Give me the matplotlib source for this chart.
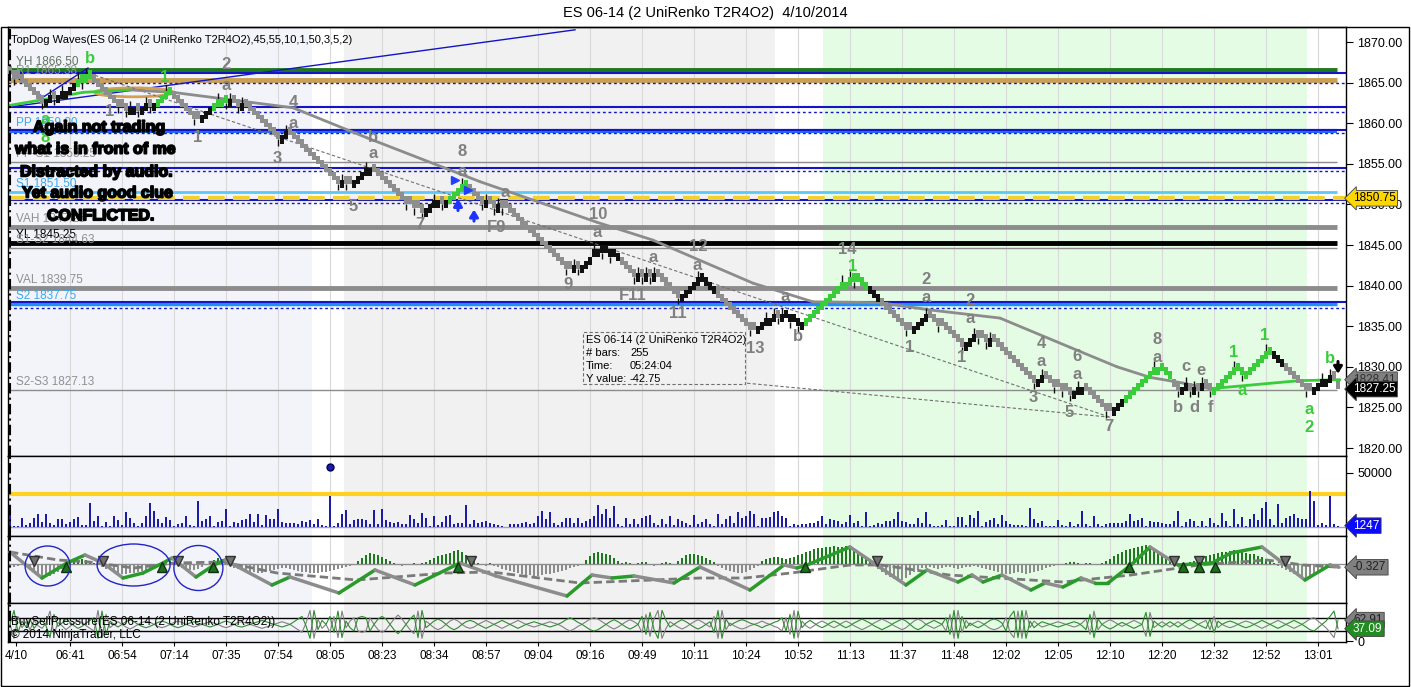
import matplotlib
matplotlib.use('Agg')
import matplotlib.pyplot as plt
import matplotlib.patches as mpatches
import matplotlib.patheffects as pe
from matplotlib.ticker import FormatStrFormatter
import numpy as np

plt.rcParams['font.family'] = ['Liberation Sans', 'DejaVu Sans']

W, H = 1411, 687

TITLE = 'ES 06-14 (2 UniRenko T2R4O2)  4/10/2014'
INDICATOR = 'TopDog Waves(ES 06-14 (2 UniRenko T2R4O2),45,55,10,1,50,3,5,2)'

# Renko closes, one per bar
CLOSES = [
    1866.0, 1865.5, 1865.5, 1865.0, 1864.5, 1864.0, 1863.5, 1863.0, 1862.5,
    1863.0, 1863.5, 1863.0, 1863.5, 1864.0, 1864.0, 1864.5, 1865.0, 1865.5, 1865.0, 1866.0,
    1865.5, 1865.0, 1864.5, 1864.0, 1863.5, 1863.0,
    1862.5, 1862.0, 1862.0, 1861.5, 1862.0, 1862.0, 1861.5, 1862.0, 1862.5, 1862.0, 1862.5,
    1863.0, 1863.5, 1864.0,
    1863.5, 1863.0, 1862.5, 1862.0, 1861.5, 1861.0, 1860.5, 1860.5,
    1861.0, 1861.5, 1862.0, 1862.5, 1863.0, 1863.0,
    1862.5, 1863.0, 1862.5, 1862.0, 1862.5,
    1862.0, 1861.5, 1861.0, 1860.5, 1860.0, 1859.5, 1859.0, 1858.5, 1858.0,
    1858.5, 1859.0, 1858.5,
    1858.0, 1857.5, 1857.0, 1856.5, 1856.0, 1855.5, 1855.0, 1854.5, 1854.0, 1853.5,
    1853.0, 1852.5, 1853.0, 1852.5, 1852.5, 1853.0,
    1853.5, 1854.0, 1854.5, 1854.5, 1854.0,
    1853.5, 1853.0, 1852.5, 1852.0, 1851.5, 1851.0, 1850.5, 1850.0, 1850.0, 1849.5, 1849.5, 1849.0,
    1849.5, 1850.0, 1850.5, 1850.5, 1850.0, 1850.5, 1851.0, 1851.5, 1852.0,
    1852.5, 1852.0, 1851.5, 1851.0,
    1850.5, 1850.0, 1850.5, 1850.0, 1849.5, 1850.0, 1849.5, 1849.5,
    1849.0, 1848.5, 1848.0, 1847.5, 1847.0, 1846.5, 1846.0, 1845.5, 1845.0, 1844.5,
    1844.0, 1843.5, 1843.0, 1842.5, 1842.0, 1842.0,
    1842.5, 1842.0, 1842.5, 1843.0, 1843.5, 1844.5, 1844.5,
    1844.0, 1844.0, 1843.5, 1843.5, 1843.0, 1842.5, 1842.0, 1841.5,
    1841.0, 1841.5, 1841.0, 1841.5, 1841.0, 1841.5, 1841.0, 1840.5,
    1840.0, 1839.5, 1839.0, 1838.5,
    1839.0, 1839.5, 1840.0, 1840.5, 1841.0,
    1840.5, 1840.0, 1839.5, 1839.0, 1838.5, 1838.0, 1837.5, 1837.0, 1836.5, 1836.0,
    1835.5, 1835.0, 1834.5, 1834.5,
    1835.0, 1835.5, 1836.0, 1836.0, 1836.5, 1836.0, 1836.5,
    1836.0, 1835.5, 1835.5, 1835.0,
    1835.5, 1836.0, 1836.5, 1837.0, 1837.5, 1838.0, 1838.5, 1839.0, 1839.5, 1840.0,
    1840.5, 1840.5, 1841.0,
    1840.5, 1840.5, 1840.0, 1839.5, 1839.0, 1838.5, 1838.0, 1837.5, 1837.0, 1836.5,
    1836.0, 1835.5, 1835.0, 1834.5, 1834.5,
    1835.0, 1835.5, 1836.0, 1836.5,
    1836.0, 1835.5, 1835.0, 1835.0, 1834.5, 1834.0, 1833.5, 1833.0, 1832.5,
    1833.0, 1833.5, 1834.0,
    1833.5, 1833.5, 1833.0, 1833.5, 1833.0, 1832.5, 1832.0, 1831.5, 1831.0, 1830.5,
    1830.0, 1829.5, 1829.0, 1828.5, 1828.0,
    1828.5, 1829.0,
    1828.5, 1828.0, 1827.5, 1827.5, 1827.0, 1827.0, 1826.5,
    1827.0, 1827.5, 1827.5,
    1827.0, 1826.5, 1826.0, 1825.5, 1825.0, 1824.5, 1824.5,
    1825.0, 1825.5, 1826.0, 1826.5, 1827.0, 1827.5, 1828.0, 1828.5, 1829.0, 1829.5,
    1830.0, 1830.0,
    1829.5, 1829.0, 1828.5, 1827.5, 1827.0,
    1827.5, 1828.0, 1827.0, 1827.5, 1827.0, 1828.0, 1827.5, 1827.0,
    1827.5, 1828.0, 1828.5, 1829.0, 1829.5, 1830.0,
    1829.5, 1829.0,
    1829.5, 1830.0, 1830.5, 1831.0, 1831.5, 1832.0,
    1831.5, 1831.0, 1830.5, 1830.0, 1829.5, 1829.0, 1828.5, 1828.0, 1827.5, 1827.0, 1827.0,
    1827.5, 1828.0, 1828.5, 1828.5, 1829.0,
    1828.5, 1827.25,
]

GREEN_SPANS = [(17, 20), (37, 40), (51, 54), (110, 114), (199, 214), (279, 290), (301, 315)]
BLACK_SPANS = [(148, 152), (173, 176), (194, 197), (215, 217), (316, 318)]

VOLUME = [
    13900, 900, 900, 8700, 1500, 4000, 8700, 11700, 4600, 11700,
    4000, 1500, 7700, 7700, 2500, 4600, 7100, 9300, 1500, 1500,
    22600, 5600, 10200, 900, 4600, 900, 10200, 6500, 1500, 13900,
    8700, 4000, 900, 4000, 10200, 22600, 14800, 7100, 4000, 9300,
    6200, 900, 2500, 4000, 10200, 1500, 900, 24100, 5600, 7100,
    10200, 900, 4600, 5600, 17000, 900, 4600, 4000, 6500, 7100,
    11700, 4600, 11700, 1500, 11100, 7100, 7700, 17000, 4600, 4000,
    4000, 4000, 2500, 5600, 4600, 6200, 2500, 7100, 1500, 900,
    28700, 900, 3400, 11700, 15800, 2500, 6500, 7700, 7700, 6500,
    2500, 15800, 2500, 17000, 6500, 4600, 3400, 4600, 2500, 2500,
    10800, 7100, 4000, 12700, 8700, 900, 10200, 1500, 4600, 10200,
    10800, 2500, 4000, 4000, 20100, 2500, 6500, 4000, 4600, 5600,
    4000, 2500, 1500, 900, 300, 2500, 2500, 2500, 4000, 4600,
    2500, 4000, 10200, 14800, 7100, 13900, 4000, 1500, 4600, 8000,
    8700, 4000, 8000, 4000, 5600, 7700, 10200, 20100, 11700, 17000,
    8000, 19500, 2500, 900, 8700, 2500, 7100, 2500, 8700, 10200,
    10800, 4000, 1500, 7100, 2500, 10200, 1500, 7700, 5600, 4000,
    1500, 10800, 2500, 4600, 7100, 2500, 900, 11700, 2500, 7100,
    10200, 4000, 13900, 8700, 10200, 14800, 11700, 900, 8000, 8700,
    9300, 13900, 14800, 10200, 8700, 900, 2500, 1500, 2500, 2500,
    4000, 4000, 5600, 10200, 2500, 7100, 6200, 5600, 2500, 4600,
    10800, 4000, 5600, 900, 13900, 900, 1500, 4000, 2500, 5600,
    5600,
    7100, 13900, 5600, 4900, 2500, 3100, 8000, 4000, 13900, 2500,
    900, 900, 1500, 6200, 900, 900, 9600, 9300, 1500, 11100,
    8000, 14800, 900, 4600, 6200, 8000, 2500, 10800, 5600, 2500,
    1500, 1500, 1500, 900, 17300, 7100, 4000, 5600, 900, 900,
    900, 6200, 1500, 900, 4600, 900, 2500, 14800, 2500, 900,
    10200, 2500, 900, 2500, 4000, 4000, 4000, 4000, 5600, 11700,
    5600, 6500, 8000, 900, 5600, 4600, 4600, 4000, 3100, 2500,
    5600, 14800, 900, 4600, 7100, 5600, 900, 5600, 900, 8000,
    4000, 1500, 12700, 5600, 900, 17000, 2500, 9300, 900, 7100,
    11700, 6200, 17900, 23200, 7100, 1500, 21600, 4000, 8700, 10200,
    11700, 8700, 7700, 7100, 33400, 24100, 1500, 4000, 1500, 28700,
    2500, 1247,
]
VOL_ALERT = 30500
VOL_DOT_BAR, VOL_DOT = 80, 55500

HIST = [
    -0.2, -0.3, -0.2, -0.1, -0.3, -0.6, -0.9, -1.2, -1.4, -1.3, -1.2, -1.0, -0.8, -0.5, -0.2,
    0.1, 0.3, 0.4, 0.5, 0.4, 0.3, 0.1,
    -0.1, -0.3, -0.5, -0.6, -0.8, -0.9, -1.0, -1.0, -0.9, -0.9, -0.8, -0.7, -0.6, -0.5, -0.3, -0.2, -0.1,
    0.2, 0.3, 0.1,
    -0.2, -0.4, -0.5, -0.6, -0.6, -0.5, -0.3, -0.1,
    0.2, 0.4, 0.6, 0.5, 0.2,
    -0.2, -0.4, -0.5, -0.6, -0.7, -0.8, -0.8, -0.9, -0.9, -0.8, -0.7, -0.6, -0.5, -0.4, -0.4,
    -0.5, -0.6, -0.7, -0.8, -0.8, -0.9, -0.9, -0.9, -0.8, -0.8, -0.7, -0.6, -0.5, -0.4, -0.3, -0.2, -0.1,
    0.3, 0.6, 0.9, 1.1, 1.0, 0.9, 0.7, 0.5, 0.3, 0.1,
    -0.1, -0.2, -0.1, 0.0, 0.1, -0.1, 0.1, 0.2,
    0.4, 0.6, 0.8, 0.9, 1.0, 1.1, 1.3, 1.4, 1.2, 0.9, 0.6, 0.3,
    0.1, -0.1, -0.2, 0.1, -0.2,
    -0.3, -0.5, -0.6, -0.7, -0.8, -0.9, -1.0, -1.1, -1.1, -1.2, -1.2, -1.1, -1.0, -1.0, -0.9,
    -0.8, -0.7, -0.6, -0.4, -0.3, -0.2, -0.1,
    0.4, 0.8, 1.1, 1.2, 1.1, 1.0, 0.9, 0.6, 0.3,
    0.1, 0.2, 0.1, -0.1, 0.1, 0.2, 0.2, -0.1, -0.2, -0.1, 0.1, 0.2, 0.1, 0.0,
    0.3, 0.6, 0.9, 1.0, 1.0, 0.9, 0.8, 0.6, 0.4, 0.2,
    -0.2, -0.4, -0.6, -0.7, -0.8, -0.9, -0.9, -0.8, -0.6, -0.4, -0.2,
    0.3, 0.5, 0.6, 0.7, 0.7, 0.6, 0.5, 0.6, 0.7, 0.9, 1.0, 1.2, 1.3, 1.5, 1.6, 1.6, 1.7, 1.7,
    1.8, 1.7, 1.7, 1.8,
    1.6, 1.4, 1.2, 0.9, 0.6, 0.3,
    -0.2, -0.5, -0.8, -1.1, -1.3, -1.5, -1.7, -1.6, -1.4, -1.1,
    -0.8, -0.6, -0.4, -0.4, -0.3, -0.4, -0.5, -0.4, -0.3, -0.3, -0.4, -0.5, -0.4, -0.3, -0.3,
    -0.2, -0.3, -0.4, -0.5,
    -0.6, -0.7, -0.8, -0.9, -1.0, -1.0, -0.9, -0.8, -0.9, -1.0, -0.9, -0.8, -0.7, -0.6, -0.4,
    -0.3, -0.2, -0.1,
    -0.1, 0.1, 0.2, 0.2, 0.1, -0.1, 0.1, 0.1, 0.0, -0.1, 0.1,
    0.3, 0.5, 0.8, 1.0, 1.2, 1.4, 1.5, 1.6, 1.7, 1.8, 1.9, 1.8, 1.6, 1.3, 1.0, 0.7,
    0.4, 0.2, 0.1, -0.1, 0.1, 0.2,
    0.3, 0.5, 0.6, 0.8, 0.9, 1.0, 1.1, 1.2, 1.2, 1.3, 1.4, 1.3, 1.2, 1.1, 1.0, 1.0, 0.8, 0.7,
    0.5, 0.3, 0.1,
    -0.2, -0.4, -0.6, -0.8, -1.0, -1.2, -1.3, -1.5, -1.4, -1.2, -0.9, -0.6, -0.4,
    -0.3, -0.2, -0.3,
]

# oscillator line and its signal, read at their turning points
MACD_K = [0, 8, 14.25, 18.75, 23.25, 28.25, 33.25, 38.25, 40.5, 46.5, 51, 53.75, 65.5, 70,
          82.25, 91.25, 101.25, 112.5, 121.5, 139.25, 145.5, 150.5, 156, 166, 172.5, 185,
          193.5, 196.75, 199.25, 210, 224, 229.25, 237, 240.5, 243.25, 248, 255.25, 258.75,
          263.25, 267.75, 271.25, 274.5, 280.25, 285, 292, 300.5, 305.25, 313, 323.75, 330,
          332.25]
MACD_V = [1.2, -1.4, 0.1, 0.9, 0.1, -1.4, -0.9, 0.1, 0.6, -1.3, -0.1, 0.4, -2.1, -1.3,
          -2.9, -0.6, -2.1, 0.1, -1.2, -3.2, -1.1, -1.4, -1.2, -1.9, -0.3, -2.6,
          -0.1, -0.4, -0.1, 1.7, -2.1, -0.6, -1.8, -1.1, -1.8, -1.1, -2.6, -1.9,
          -2.3, -1.4, -1.9, -1.9, -0.1, 1.7, -0.1, 0.1, 1.1, 1.7, -1.6, -0.1,
          -0.327]
SIG_K = [0, 12, 19.75, 31, 41, 53.25, 66.75, 86.75, 109, 120.25, 142.5, 172.5, 183.75,
         195.25, 210, 217.75, 234.75, 263.25, 280.25, 297.25, 314.25, 323.25, 332.25]
SIG_V = [1.2, 0.4, 0.2, -0.4, 0.1, 0.2, -0.9, -1.6, -0.9, -0.8, -1.9, -1.4, -1.4,
         -0.9, -0.1, -0.1, -1.1, -1.8, -1.1, -0.1, 0.4, -0.1, -0.327]
CROSS_DN = [6, 23.25, 42, 55, 115.25, 216.75, 291, 297.25, 318.75]
CROSS_UP = [14, 38, 50.75, 112, 198.75, 279.75, 293.25, 297.25, 301.25]

BUY = [
    50, 92, 26, 60, 42, 66, 38, 54, 62, 46, 10, 80, 44, 54, 66, 56, 46, 38, 44, 54,
    62, 70, 8, 90, 20, 60, 50, 42, 50, 58, 64, 58, 50, 44, 40, 44, 50, 56, 60, 56,
    50, 44, 40, 44, 50, 54, 58, 54, 50, 46, 42, 46, 50, 56, 60, 56, 50, 44, 42, 46,
    50, 54, 58, 62, 58, 54, 50, 46, 42, 46, 50, 58, 66, 74, 46, 8, 92, 34, 62, 50,
    74, 26, 90, 10, 60, 40, 30, 70, 74, 70, 30, 50, 66, 74, 66, 50, 34, 22, 34, 50,
    66, 78, 10, 92, 40, 50, 60, 66, 60, 50, 40, 34, 40, 50, 58, 62, 58, 50, 44, 38,
    44, 50, 56, 62, 56, 50, 44, 38, 44, 50, 54, 58, 54, 50, 46, 42, 46, 50, 56, 64,
    70, 64, 56, 50, 42, 34, 30, 34, 42, 50, 58, 64, 58, 50, 42, 36, 42, 50, 74, 20,
    86, 34, 8, 92, 62, 42, 50, 58, 64, 58, 50, 42, 36, 42, 50, 58, 26, 92, 8, 66,
    46, 54, 60, 64, 60, 54, 50, 46, 40, 46, 50, 56, 60, 70, 30, 80, 8, 90, 40, 54,
    62, 54, 46, 40, 46, 54, 60, 54, 46, 40, 46, 54, 60, 66, 60, 54, 46, 40, 34, 40,
    46, 54, 60, 66, 60, 50, 40, 34, 40, 50, 56, 62, 56, 50, 70, 20, 92, 8, 74, 38,
    54, 46, 40, 46, 54, 62, 66, 62, 54, 30, 74, 90, 10, 92, 8, 60, 40, 50, 58, 54,
    50, 46, 42, 46, 50, 54, 58, 54, 46, 34, 80, 10, 66, 50, 42, 36, 42, 50, 56, 50,
    44, 38, 44, 50, 86, 14, 60, 50, 42, 50, 58, 50, 42, 50, 58, 64, 58, 50, 44, 38,
    66, 26, 60, 50, 56, 60, 56, 50, 44, 40, 44, 50, 56, 62, 56, 50, 44, 38, 44, 50,
    56, 62, 56, 50, 42, 34, 30, 40, 50, 60, 74, 90, 37.09,
]

# moving average on price, read at its bends
MA_K = [0, 8.25, 18.25, 30, 40.75, 70.75, 89.25, 117.5, 146.75, 160.75, 185.75, 200.75,
        217.5, 230, 247.5, 265, 276.75, 285, 293.25, 300, 322.5, 332.5]
MA_P = [1862.2, 1862.9, 1863.8, 1864.1, 1863.8, 1861.9, 1858.2, 1852.8, 1847.8, 1845.6,
        1840.3, 1838.0, 1837.9, 1837.0, 1836.0, 1832.4, 1830.0, 1828.7, 1828.0, 1827.3,
        1828.3, 1828.41]

PIVOT_NAMES = ['YH', 'R1', 'PP', 'PP-S1', 'S1', 'VAH', 'YL', 'S1-S2', 'VAL', 'S2', 'S2-S3']
PIVOT_VALUES = [1866.50, 1865.38, 1859.00, 1855.25, 1851.50, 1847.25, 1845.25, 1844.63,
                1839.75, 1837.75, 1827.13]
BLUE_SOLID = [1866.2, 1862.0, 1859.2, 1854.5, 1850.6, 1837.95]
BLUE_DOTTED = [1865.0, 1861.4, 1858.85, 1854.1, 1850.2, 1837.2]
SIGNAL_LEVEL = 1850.75

WAVE_TEXT = ['2', 'a', '4', 'a', '3', '1', '1', 'b', 'a', '5', '7', '8', 'a',
             'b', 'a', '8', '1',
             'a', 'F9', '10', 'a', '9', 'a', 'F11', '12', 'a', '11', '13', 'a', 'b', '14', '1',
             '1', '2', 'a', '2', 'a', '1', '4', 'a', '3', '6', 'a', '5', '7', '8', 'a',
             'c', 'e', 'b', 'd', 'f', '1', 'a', '1', 'b', 'a', '2']
WAVE_K = [54, 54, 70.75, 70.75, 66.75, 47, 25, 90.75, 90.75, 85.75, 102.5, 113, 113,
          20, 8.75, 8.75, 38.75,
          123.75, 121.75, 147, 146.75, 139.5, 160.75, 155.75, 172, 171.75, 167, 186.25, 193.75,
          197, 209.25, 210.75,
          225, 229, 229, 240, 240, 238, 257.75, 257.75, 255.75, 266.75, 266.75, 264.75, 274.75,
          286.75, 286.75,
          294, 297.75, 292, 296, 300, 306, 308, 313.75, 330, 324.75, 324.75]
WAVE_P = [1867.2, 1864.7, 1862.5, 1860.0, 1855.7, 1858.3, 1861.4, 1858.3, 1856.3, 1849.7,
          1847.5, 1856.5, 1854.0,
          1868.0, 1860.4, 1858.3, 1865.6,
          1851.5, 1847.2, 1848.7, 1846.5, 1840.1, 1843.4, 1838.8, 1844.8, 1842.5, 1836.6,
          1832.3, 1838.6, 1833.7, 1844.4, 1842.3,
          1832.4, 1840.7, 1838.5, 1838.2, 1835.9, 1831.1, 1832.9, 1830.6, 1826.2, 1831.3,
          1829.1, 1824.4, 1822.6, 1833.4, 1831.1,
          1830.0, 1829.6, 1825.0, 1825.0, 1825.0, 1831.8, 1827.1, 1833.8, 1831.0, 1824.7, 1822.5]
WAVE_UP = {13, 14, 15, 16, 31, 52, 53, 54, 55, 56, 57}

NOTE = ['Again not trading', 'what is in front of me', 'Distracted by audio.',
        'Yet audio good clue', 'CONFLICTED.']
NOTE_K = [5.75, 1.25, 2.5, 3.0, 9.25]
NOTE_P = [1859.5, 1856.8, 1854.0, 1851.4, 1848.6]

RULER_K = [21.25, 275]
RULER_P = [1865.9, 1823.8]
RULER_INFO = [('ES 06-14 (2 UniRenko T2R4O2)', ''), ('# bars:', '255'),
              ('Time:', '05:24:04'), ('Y value:', '-42.75')]

TIME_LABELS = ['4/10', '06:41', '06:54', '07:14', '07:35', '07:54', '08:05', '08:23', '08:34',
               '08:57', '09:04', '09:16', '09:49', '10:11', '10:24', '10:52', '11:13', '11:37',
               '11:48', '12:02', '12:05', '12:10', '12:20', '12:32', '12:52', '13:01']
TICK_K = [1.5] + [15 + 13 * j for j in range(25)]

SESSIONS = [(-0.5, 75.5, '#F3F4FA'), (83.5, 191.25, '#F1F1F1'), (203.25, 324.25, '#E4FBE4')]

GRAY = '#8C8C8C'
GREEN = '#3ACC3A'
BLUE = '#1414C8'
XMAX = 334


def box(x0, y0, x1, y1):
    return [x0 / W, 1 - y1 / H, (x1 - x0) / W, (y1 - y0) / H]


def tag(ax, y, text, fc, tc):
    ax.annotate(text, xy=(1.0, y), xycoords=('axes fraction', 'data'),
                xytext=(5, 0), textcoords='offset points', ha='left', va='center',
                fontsize=8.5, color=tc, annotation_clip=False, zorder=20,
                bbox=dict(boxstyle='larrow,pad=0.15', fc=fc, ec='#404040', lw=0.6))


fig = plt.figure(figsize=(W / 100, H / 100), dpi=100)
fig.text(0.5, 1 - 13 / H, TITLE, ha='center', va='center', fontsize=10.5)

ax_p = fig.add_axes(box(8, 27, 1346, 456))
ax_v = fig.add_axes(box(8, 456, 1346, 536), sharex=ax_p)
ax_m = fig.add_axes(box(8, 536, 1346, 603), sharex=ax_p)
ax_b = fig.add_axes(box(8, 603, 1346, 642), sharex=ax_p)
axes = [ax_p, ax_v, ax_m, ax_b]

for ax in axes:
    for a, b, c in SESSIONS:
        ax.axvspan(a, b, color=c, lw=0, zorder=0)
    for t in TICK_K[1:]:
        ax.axvline(t, color='#D9D9D9', lw=0.8, zorder=0.5)
    ax.axvline(0, color='k', lw=1.5, ls=(0, (5, 2, 1, 2)), zorder=6)
    ax.tick_params(axis='x', bottom=False, labelbottom=False)
    ax.tick_params(axis='y', left=False, labelleft=False, right=True, labelright=True,
                   direction='out', length=5, labelsize=9, pad=3)
    for s in ax.spines.values():
        s.set_linewidth(1)
ax_p.set_xlim(-0.5, XMAX)

# ---- price panel ----
ax_p.set_ylim(1870 - 414 / 8.12, 1870 + 15 / 8.12)
ax_p.set_yticks(np.arange(1820, 1871, 5))
ax_p.yaxis.set_major_formatter(FormatStrFormatter('%.2f'))

style = {'YH': ('#1E781E', 3.5, '#607060'), 'R1': ('#C9A055', 3.5, '#909090'),
         'PP': ('#1F6FFF', 3.0, '#3AA8F0'), 'PP-S1': (GRAY, 1.0, '#909090'),
         'S1': ('#5CC8F8', 2.0, '#3AA8F0'), 'VAH': (GRAY, 3.5, '#909090'),
         'YL': ('#000000', 3.5, '#000000'), 'S1-S2': (GRAY, 1.0, '#909090'),
         'VAL': (GRAY, 3.5, '#909090'), 'S2': ('#1F8FFF', 2.5, '#3AA8F0'),
         'S2-S3': (GRAY, 1.0, '#909090')}
for name, val in zip(PIVOT_NAMES, PIVOT_VALUES):
    col, lw, tcol = style[name]
    ax_p.hlines(val, -0.5, 331.75, color=col, lw=lw, zorder=1)
    ax_p.text(1.5, val + 0.25, f'{name} {val:.2f}', color=tcol, fontsize=8.5,
              ha='left', va='bottom', zorder=1.5)
ax_p.hlines(BLUE_SOLID, -0.5, XMAX, color=BLUE, lw=1.5, zorder=1.2)
ax_p.hlines(BLUE_DOTTED, -0.5, XMAX, color=BLUE, lw=1, ls=(0, (2, 2)), zorder=1.2)
ax_p.hlines(SIGNAL_LEVEL, -0.5, XMAX, color='#F2D22A', lw=3, ls=(0, (4, 2)), zorder=1.3)

# trend drawings
ax_p.plot([0, 141.25], [1862.0, 1871.5], color=BLUE, lw=1, zorder=2)
ax_p.plot([0, 8.25, 19.5], [1866.3, 1863.2, 1866.8], color=BLUE, lw=1, zorder=2)
ax_p.add_patch(mpatches.Ellipse((31, 1863.8), 19.5, 1.1, fill=False, ec='#D4A050', lw=2,
                                zorder=2))
ax_p.plot(RULER_K, RULER_P, color='#707070', lw=0.8, ls=(0, (3, 2)), zorder=2)
ax_p.plot([RULER_K[1], 183.75], [RULER_P[1], 1828.0], color='#707070', lw=0.8,
          ls=(0, (3, 2)), zorder=2)
ax_p.add_patch(mpatches.Rectangle((143.25, 1827.9), 40.5, 6.4, fill=False, ec='#707070',
                                  lw=0.8, ls=(0, (3, 2)), zorder=6))
for i, (lab, val) in enumerate(RULER_INFO):
    yy = 1833.3 - 1.6 * i
    ax_p.text(144, yy, lab, fontsize=8, va='center', ha='left', zorder=6)
    ax_p.text(155, yy, val, fontsize=8, va='center', ha='left', zorder=6)

# moving average, coloured by slope
for i in range(len(MA_K) - 1):
    col = GREEN if MA_P[i + 1] >= MA_P[i] else GRAY
    ax_p.plot(MA_K[i:i + 2], MA_P[i:i + 2], color=col, lw=2, solid_capstyle='round',
              zorder=2.5)

# renko bars
BODY, WICK = 1.0, 0.75
closes = np.array(CLOSES)
n = len(closes)
kk = np.arange(n)
dirs = np.sign(np.diff(closes, prepend=closes[0] + 0.5))
for i in range(1, n):
    if dirs[i] == 0:
        dirs[i] = dirs[i - 1]
opens = closes - dirs * BODY
lo = np.minimum(opens, closes)
hi = np.maximum(opens, closes)
cols = np.where(dirs > 0, '#111111', '#8E8E8E').astype(object)
for a, b in GREEN_SPANS:
    cols[a:b + 1] = GREEN
for a, b in BLACK_SPANS:
    cols[a:b + 1] = '#111111'
wx, w0, w1 = [], [], []
for i in range(1, n - 1):
    if closes[i] < closes[i - 1] and closes[i] <= closes[i + 1]:
        wx.append(i); w0.append(lo[i] - WICK); w1.append(lo[i])
    elif closes[i] > closes[i - 1] and closes[i] >= closes[i + 1]:
        wx.append(i); w0.append(hi[i]); w1.append(hi[i] + WICK)
ax_p.vlines(wx, w0, w1, color='#111111', lw=1, zorder=3.9)
ax_p.bar(kk, hi - lo, bottom=lo, width=0.85, color=list(cols), lw=0, zorder=4)

# wave labels
for t, x, y, i in zip(WAVE_TEXT, WAVE_K, WAVE_P, range(len(WAVE_TEXT))):
    ax_p.text(x, y, t, color=GREEN if i in WAVE_UP else '#808080', fontsize=12,
              fontweight='bold', ha='center', va='center', zorder=5)

# markers
for x, y0, y1 in [(112, 1848.9, 1851.0), (116, 1847.6, 1849.7)]:
    ax_p.annotate('', xy=(x, y1), xytext=(x, y0), zorder=7,
                  arrowprops=dict(arrowstyle='-|>,head_width=0.25,head_length=0.4',
                                  color='#1E32FF', lw=2.2))
ax_p.plot([111.25, 114.5], [1853.0, 1851.8], ls='none', marker='>', ms=6, color='#2040FF',
          zorder=7)
ax_p.annotate('', xy=(332, 1828.8), xytext=(332, 1831.0), zorder=7,
              arrowprops=dict(arrowstyle='-|>,head_width=0.25,head_length=0.4',
                              color='k', lw=2.2))

# handwritten note
for t, x, y in zip(NOTE, NOTE_K, NOTE_P):
    ax_p.text(x, y, t, fontsize=11.5, fontweight='bold', ha='left', va='center', zorder=8,
              path_effects=[pe.withStroke(linewidth=1.2, foreground='black')])

ax_p.text(0.002, 1 - 13 / 429, INDICATOR, transform=ax_p.transAxes, fontsize=8,
          ha='left', va='center', zorder=9)

tag(ax_p, SIGNAL_LEVEL, '1850.75', '#FFD700', 'black')
tag(ax_p, MA_P[-1], f'{MA_P[-1]:.2f}', '#808080', '#303030')
tag(ax_p, CLOSES[-1], f'{CLOSES[-1]:.2f}', 'black', 'white')

# ---- volume panel ----
ax_v.set_ylim(-8333, 65740)
ax_v.bar(np.arange(len(VOLUME)), VOLUME, width=0.5, color='#1C1CA8', lw=0, zorder=3)
ax_v.axhline(0, color='#A0A0C8', lw=1, zorder=2)
ax_v.axhline(VOL_ALERT, color='#FFD21F', lw=3, zorder=2.5)
ax_v.plot([VOL_DOT_BAR], [VOL_DOT], 'o', color='#1C1CA8', ms=5, mec='#000050', zorder=4)
ax_v.set_yticks([50000])
tag(ax_v, VOLUME[-1], str(VOLUME[-1]), '#0A0AFF', 'white')

# ---- oscillator panel ----
ax_m.set_ylim(-3.9, 2.8)
ax_m.set_yticks([])
hist = np.array(HIST)
ax_m.bar(np.arange(len(hist)), hist, width=0.55, lw=0, zorder=2,
         color=np.where(hist >= 0, '#1E7A1E', '#8C8C8C'))
ax_m.axhline(0, color='#909090', lw=1, zorder=1.5)
ax_m.plot(SIG_K, SIG_V, color='#7A7A7A', lw=2, ls=(0, (3, 1.5)), zorder=3)
for i in range(len(MACD_K) - 1):
    col = '#2A9A2A' if MACD_V[i + 1] >= MACD_V[i] else GRAY
    ax_m.plot(MACD_K[i:i + 2], MACD_V[i:i + 2], color=col, lw=2.5, solid_capstyle='round',
              zorder=3.5)
ax_m.plot(CROSS_DN, [0.35] * len(CROSS_DN), ls='none', marker='v', ms=7, color='#707070',
          mec='#303030', zorder=4)
ax_m.plot(CROSS_UP, [-0.25] * len(CROSS_UP), ls='none', marker='^', ms=7, color='#1F6F1F',
          mec='#103010', zorder=4)
for cx, cy, ew, eh in [(9.4, -0.2, 11.25, 4.0), (30.9, -0.1, 18.25, 4.2),
                       (47.1, -0.4, 12.25, 4.5)]:
    ax_m.add_patch(mpatches.Ellipse((cx, cy), ew, eh, fill=False, ec='#2323C8', lw=1,
                                    zorder=5))
tag(ax_m, MACD_V[-1], f'{MACD_V[-1]:.3f}', '#808080', '#202020')

# ---- buy/sell pressure panel ----
ax_b.set_ylim(-3, 114.3)
buy = np.array(BUY)
ax_b.plot(np.arange(len(buy)), 100 - buy, color='#808080', lw=0.8, zorder=3)
ax_b.plot(np.arange(len(buy)), buy, color='#2E8B2E', lw=0.8, zorder=3.1)
ax_b.axhline(70, color='k', lw=1, zorder=2)
ax_b.axhline(30, color='k', lw=1, zorder=2)
ax_b.set_yticks([0])
ax_b.text(0.002, 0.52, 'BuySellPressure(ES 06-14 (2 UniRenko T2R4O2))',
          transform=ax_b.transAxes, fontsize=8.5, ha='left', va='center', zorder=6)
ax_b.text(0.002, 0.17, '\u00a9 2014 NinjaTrader, LLC', transform=ax_b.transAxes,
          fontsize=8.5, ha='left', va='center', zorder=6)
tag(ax_b, 100 - buy[-1], f'{100 - buy[-1]:.2f}', '#808080', '#202020')
tag(ax_b, buy[-1], f'{buy[-1]:.2f}', '#228B22', 'white')

ax_b.set_xticks(TICK_K)
ax_b.set_xticklabels(TIME_LABELS)
ax_b.tick_params(axis='x', bottom=True, labelbottom=True, length=3, labelsize=8.5, pad=3)

fig.add_artist(mpatches.Rectangle((1 / W, 1 - 686 / H), 1408 / W, 659 / H,
                                  transform=fig.transFigure, fill=False, ec='k', lw=1))

fig.savefig('out.png', dpi=100)
